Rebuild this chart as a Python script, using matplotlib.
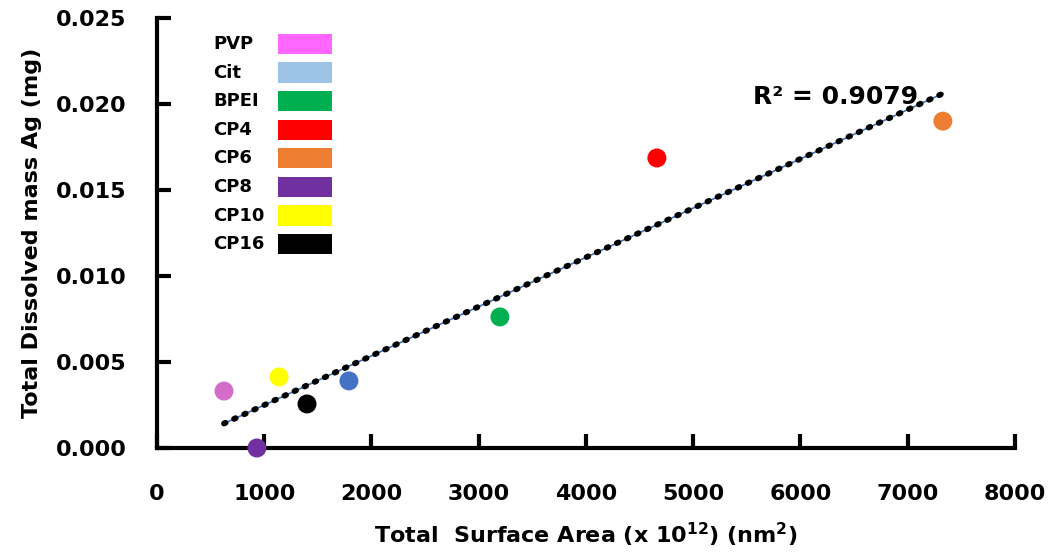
import numpy as np
import matplotlib.pyplot as plt
from matplotlib.patches import Rectangle

names = ["PVP", "Cit", "BPEI", "CP4", "CP6", "CP8", "CP10", "CP16"]
legend_colors = ["#FF66FF", "#9DC3E6", "#00B050", "#FF0000", "#ED7D31", "#7030A0", "#FFFF00", "#000000"]
point_colors = ["#D36DC8", "#4472C4", "#00B050", "#FF0000", "#ED7D31", "#7030A0", "#FFFF00", "#000000"]
area = [625, 1790, 3198, 4662, 7329, 932, 1138, 1399]
mass = [0.00331, 0.0039, 0.00762, 0.01686, 0.0190, 0.0, 0.00413, 0.00256]

plt.rcParams['font.family'] = ['DejaVu Sans']
plt.rcParams['font.weight'] = 'bold'

fig = plt.figure(figsize=(10.5, 5.6), dpi=100)
ax = fig.add_axes([0.1495, 0.2, 0.817, 0.768])

ax.scatter(area, mass, s=160, c=point_colors, zorder=3, clip_on=False)

# linear trendline
k, b = np.polyfit(area, mass, 1)
xs = np.array([min(area), max(area)])
ax.plot(xs, k * xs + b, color="#4472C4", lw=1.2, zorder=2)
ax.plot(xs, k * xs + b, color="black", lw=4.2, ls=(0, (0.3, 1.6)),
        dash_capstyle="round", zorder=2)
ax.text(5560, 0.0204, "R² = 0.9079", fontsize=18, fontweight="bold", va="center")

ax.set_xlim(0, 8000)
ax.set_ylim(0, 0.025)
ax.set_xticks(np.arange(0, 8001, 1000))
ax.set_yticks(np.arange(0, 0.0251, 0.005))
ax.yaxis.set_major_formatter(plt.FormatStrFormatter("%.3f"))
ax.tick_params(direction="in", length=10, width=3, labelsize=16)
ax.tick_params(axis="y", pad=22)
ax.tick_params(axis="x", pad=26)
for s in ["top", "right"]:
    ax.spines[s].set_visible(False)
for s in ["left", "bottom"]:
    ax.spines[s].set_linewidth(3)

ax.set_xlabel("Total  Surface Area (x 10$^{\\mathbf{12}}$) (nm$^{\\mathbf{2}}$)", fontsize=16,
              fontweight="bold", labelpad=12)
ax.set_ylabel("Total Dissolved mass Ag (mg)", fontsize=16, fontweight="bold", labelpad=10)

# legend: label then colour box
row0 = 0.9395
step = 0.0665
for i, (nm, col) in enumerate(zip(names, legend_colors)):
    y = row0 - i * step
    ax.text(0.0653, y, nm, transform=ax.transAxes, fontsize=13, fontweight="bold", va="center")
    ax.add_patch(Rectangle((0.141, y - 0.0235), 0.063, 0.047, transform=ax.transAxes,
                           facecolor=col, edgecolor="none"))

fig.savefig("out.png")
